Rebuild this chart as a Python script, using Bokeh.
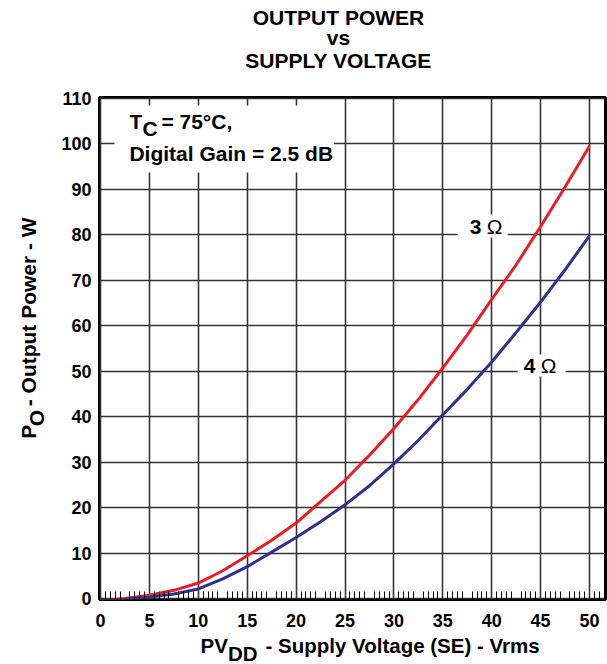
import math
from bokeh.plotting import figure
from bokeh.layouts import column, row
from bokeh.models import Range1d, FixedTicker, Label, BoxAnnotation
from bokeh.core.properties import value
from bokeh.embed import file_html
from bokeh.resources import INLINE

# ---------------- data ----------------
voltage = [0, 2.5, 5, 7.5, 10, 12.5, 15, 17.5, 20, 22.5, 25, 27.5, 30,
           32.5, 35, 37.5, 40, 42.5, 45, 47.5, 50]
power_3ohm = [-0.5, 0.0, 0.7, 1.8, 3.4, 6.1, 9.4, 12.8, 16.6, 21.3, 26.0,
              31.5, 37.4, 43.8, 50.7, 58.0, 65.8, 73.4, 81.8, 90.5, 99.5]
power_4ohm = [-0.5, -0.2, 0.3, 1.0, 2.1, 4.3, 7.0, 10.2, 13.4, 16.9, 20.6,
              24.8, 29.6, 34.8, 40.4, 46.0, 52.0, 58.5, 65.2, 72.3, 79.8]
x_ticks = [0, 5, 10, 15, 20, 25, 30, 35, 40, 45, 50]
y_ticks = [0, 10, 20, 30, 40, 50, 60, 70, 80, 90, 100, 110]
x_minor = [i * 0.5 for i in range(0, 104) if (i % 5) != 0]
title_lines = ["OUTPUT POWER", "vs", "SUPPLY VOLTAGE"]

FONT = "Liberation Sans"
SHIFT = 7  # rendered text sits this many px below the requested baseline

# ---------------- layout helpers (page pixel -> data) ----------------
def dx(px):
    return (px - 99) / 9.8

def dy(py):
    return (598 - py) / 4.547

def aux_fig(x0, x1, y0, y1):
    f = figure(width=x1 - x0, height=y1 - y0, output_backend="svg", title=None,
               toolbar_location=None, x_axis_type=None, y_axis_type=None,
               x_range=Range1d(x0, x1), y_range=Range1d(y1, y0), min_border=0)
    f.outline_line_color = None
    f.background_fill_color = "white"
    f.border_fill_color = "white"
    return f

def txt(f, px, py, text, size="21px", align="left", angle=0.0, style="bold"):
    f.text(x=[px], y=[py], text=[text], text_font=value(FONT),
           text_font_size=value(size), text_font_style=style,
           text_color="black", text_align=align, text_baseline="alphabetic",
           angle=angle)

# ---------------- main plot ----------------
p = figure(width=549, height=556, output_backend="svg", toolbar_location=None,
           title=None,
           x_range=Range1d(dx(98), dx(605)), y_range=Range1d(dy(599), dy(97)),
           min_border_left=40, min_border_right=2, min_border_top=19,
           min_border_bottom=35)

p.background_fill_color = "white"
p.border_fill_color = "white"
p.outline_line_color = "black"
p.outline_line_width = 3

p.xaxis.ticker = FixedTicker(ticks=x_ticks, minor_ticks=x_minor)
p.yaxis.ticker = FixedTicker(ticks=y_ticks)
p.xgrid.ticker = FixedTicker(ticks=x_ticks)
p.ygrid.ticker = FixedTicker(ticks=y_ticks)
p.grid.grid_line_color = "#333333"
p.grid.grid_line_width = 1.6

p.axis.axis_line_color = None
p.axis.major_tick_line_color = None
p.axis.major_tick_in = 0
p.axis.major_tick_out = 0
p.yaxis.minor_tick_line_color = None
p.yaxis.minor_tick_in = 0
p.yaxis.minor_tick_out = 0
p.xaxis.minor_tick_in = 8
p.xaxis.minor_tick_out = 0
p.xaxis.minor_tick_line_color = "black"
p.xaxis.minor_tick_line_width = 1
p.axis.major_label_text_font = FONT
p.axis.major_label_text_font_style = "bold"
p.axis.major_label_text_font_size = "18px"
p.axis.major_label_text_color = "black"
p.xaxis.major_label_standoff = 14
p.yaxis.major_label_standoff = 8

p.line(voltage, power_3ohm, line_color="#ED1C24", line_width=3)
p.line(voltage, power_4ohm, line_color="#2E3192", line_width=3)

for l, r, b, t in [(113, 333, 172, 105), (457, 507, 237, 214), (517, 565, 376, 354)]:
    p.add_layout(BoxAnnotation(left=dx(l), right=dx(r), bottom=dy(b), top=dy(t),
                               fill_color="white", fill_alpha=1.0, line_color=None))

def lab(px, py, text, size="21px", style="bold"):
    p.add_layout(Label(x=dx(px), y=dy(py - SHIFT), text=text, text_font=FONT,
                       text_font_size=size, text_font_style=style,
                       text_color="black", text_align="left",
                       text_baseline="alphabetic"))

lab(128, 128, "T")
lab(141, 135, "C")
lab(160, 128, "= 75°C,")
lab(128, 160, "Digital Gain = 2.5 dB")
lab(469, 233, "3")
lab(486, 233, "Ω", style="normal")
lab(523, 372, "4")
lab(540, 372, "Ω", style="normal")

# ---------------- title ----------------
tf = aux_fig(0, 607, 0, 78)
for line, base in zip(title_lines, [24, 44, 67]):
    txt(tf, 338, base - SHIFT, line, align="center")

# ---------------- y label ----------------
yf = aux_fig(0, 58, 78, 634)
a = math.pi / 2
txt(yf, 35 - SHIFT, 456, "P", angle=a)
txt(yf, 43 - SHIFT, 442, "O", angle=a)
txt(yf, 35 - SHIFT, 420, "- Output Power - W", angle=a)

# ---------------- x label ----------------
xf = aux_fig(0, 607, 634, 664)
txt(xf, 200, 652 - SHIFT, "PV", size="20.5px")
txt(xf, 227.5, 660 - SHIFT, "DD", size="20.5px")
txt(xf, 265, 652 - SHIFT, "- Supply Voltage (SE) - Vrms", size="20.5px")

layout = column(tf, row(yf, p), xf)
open("out.html", "w").write(file_html(layout, INLINE))
